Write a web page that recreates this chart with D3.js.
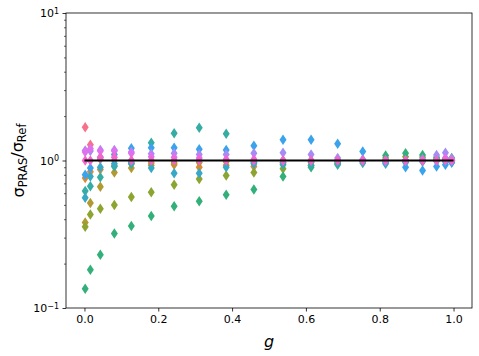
<!DOCTYPE html>
<html><head><meta charset="utf-8">
<script src="https://cdn.jsdelivr.net/npm/d3@7/dist/d3.min.js"></script>
<style>
body{margin:0;background:#fff}
svg{display:block}
text{font-family:"DejaVu Sans",sans-serif;fill:#000}
</style>
</head><body>
<svg id="chart" width="479" height="356"></svg>
<script>
// x positions (g values) of the columns
const gValues = [0.002, 0.016, 0.043, 0.081, 0.127, 0.181, 0.243, 0.311, 0.384, 0.459,
                 0.538, 0.614, 0.686, 0.754, 0.816, 0.870, 0.916, 0.954, 0.978, 0.995];

// ratio sigma_PRAS / sigma_Ref for each series
const seriesPink    = [1.68, 1.28, 1.02, 1.0, 1.0, 1.0, 1.0, 1.0, 1.0, 1.0, 1.0, 1.0, 1.0, 1.0, 1.0, 1.0, 1.0, 1.0, 1.0, 1.0];
const seriesOrange  = [0.76, 0.84, 0.87, 0.92, 0.95, 0.96, 0.935, 0.90, 0.93, 0.91, 0.96, 0.97, 0.98, 0.99, 1.0, 1.0, 1.0, 1.0, 1.0, 1.0];
const seriesOlive   = [0.38, 0.515, 0.665, 0.83, 0.89, 0.93, 0.96, 0.97, 0.98, 0.99, 1.0, 1.0, 1.0, 1.0, 1.0, 1.0, 1.0, 1.0, 1.0, 1.0];
const seriesLime    = [0.355, 0.43, 0.47, 0.50, 0.565, 0.61, 0.685, 0.75, 0.79, 0.83, 0.88, 0.93, 0.96, 0.99, 1.04, 1.06, 1.05, 1.03, 1.02, 1.01];
const seriesGreen   = [0.135, 0.182, 0.23, 0.32, 0.36, 0.42, 0.49, 0.53, 0.585, 0.635, 0.78, 0.90, 0.95, 1.0, 1.08, 1.12, 1.09, 1.05, 1.03, 1.04];
const seriesTeal    = [0.62, 0.67, 0.77, 0.91, 0.95, 1.32, 1.53, 1.67, 1.52, 0.97, 0.935, 0.925, 0.935, 0.96, 0.95, 0.97, 0.98, 0.99, 0.98, 0.97];
const seriesCyan    = [0.56, 0.78, 0.90, 0.95, 0.97, 0.89, 0.82, 0.82, 0.90, 0.95, 0.97, 0.98, 0.99, 0.99, 1.0, 1.0, 1.0, 1.0, 1.0, 1.0];
const seriesBlue    = [0.80, 0.89, 1.05, 1.10, 1.21, 1.22, 1.22, 1.19, 1.18, 1.26, 1.38, 1.38, 1.30, 1.15, 0.97, 0.90, 0.855, 0.91, 0.935, 0.97];
const seriesPurple  = [1.17, 1.16, 1.18, 1.18, 1.14, 1.11, 1.12, 1.10, 1.10, 1.12, 1.13, 1.10, 1.04, 1.02, 1.0, 1.0, 1.02, 1.09, 1.13, 1.03];
const seriesViolet  = [1.14, 1.20, 1.16, 1.16, 1.12, 1.06, 1.05, 1.04, 1.02, 1.02, 1.0, 1.0, 1.0, 1.0, 1.0, 1.0, 1.0, 1.0, 1.04, 1.0];
const seriesMagenta = [1.0, 1.0, 1.05, 1.05, 1.0, 1.0, 1.0, 1.0, 1.0, 1.0, 1.0, 1.0, 1.0, 1.0, 1.0, 1.0, 1.0, 1.0, 1.0, 1.0];

const seriesColors = ["#f77189", "#dc8932", "#b09a31", "#8ca531", "#33b07a", "#36ada4",
                      "#38a9c5", "#3ba3ec", "#a48cf4", "#e070ee", "#f565cc"];

const xTickValues = [0, 0.2, 0.4, 0.6, 0.8, 1.0];
const xTickLabels = ["0.0", "0.2", "0.4", "0.6", "0.8", "1.0"];
const yTickValues = [0.1, 1, 10];
const yTickExponents = ["\u22121", "0", "1"];
const refLine = [[0, 1], [1, 1]];

const allSeries = [seriesPink, seriesOrange, seriesOlive, seriesLime, seriesGreen, seriesTeal,
                   seriesCyan, seriesBlue, seriesPurple, seriesViolet, seriesMagenta];

const W = 479, H = 356;
const L = 66, R = 472, T = 13, B = 308;
const svg = d3.select("#chart");

const x = d3.scaleLinear().domain([-0.05, 1.05]).range([L, R]);
const y = d3.scaleLog().domain([0.1, 10]).range([B, T]);

// axes
const xAxis = d3.axisBottom(x).tickValues(xTickValues).tickFormat((d, i) => xTickLabels[i]).tickSize(3.5).tickPadding(3.5);
const gx = svg.append("g").attr("transform", `translate(0,${B})`).call(xAxis);
gx.select(".domain").remove();
gx.selectAll("line").attr("stroke", "#000").attr("stroke-width", 0.8);
gx.selectAll("text").attr("font-size", 11).attr("font-family", "DejaVu Sans").attr("fill", "#000");

const minor = [];
for (let e = -1; e < 1; e++) for (let m = 2; m <= 9; m++) minor.push(m * Math.pow(10, e));
const yMinor = d3.axisLeft(y).tickValues(minor).tickFormat("").tickSize(2);
const gym = svg.append("g").attr("transform", `translate(${L},0)`).call(yMinor);
gym.select(".domain").remove();
gym.selectAll("line").attr("stroke", "#000").attr("stroke-width", 0.6);

const yAxis = d3.axisLeft(y).tickValues(yTickValues).tickFormat("").tickSize(3.5);
const gy = svg.append("g").attr("transform", `translate(${L},0)`).call(yAxis);
gy.select(".domain").remove();
gy.selectAll("line").attr("stroke", "#000").attr("stroke-width", 0.8);
gy.selectAll(".tick").each(function(d, i) {
  const t = d3.select(this).append("text").attr("x", -7).attr("dy", "0.36em")
    .attr("text-anchor", "end").attr("font-size", 11).attr("fill", "#000");
  t.append("tspan").text("10");
  t.append("tspan").attr("dy", "-0.45em").attr("font-size", 8).text(yTickExponents[i]);
});

// markers
const w = 7, h = 10.5;
const diamond = `M0,${-h/2}L${w/2},0L0,${h/2}L${-w/2},0Z`;
allSeries.forEach((vals, si) => {
  svg.append("g").selectAll("path").data(vals).join("path")
    .attr("d", diamond)
    .attr("transform", (v, i) => `translate(${x(gValues[i])},${y(v)})`)
    .attr("fill", seriesColors[si]);
});

// reference line
svg.append("path").datum(refLine)
  .attr("d", d3.line().x(d => x(d[0])).y(d => y(d[1])))
  .attr("stroke", "#000").attr("stroke-width", 1.8).attr("fill", "none");

// frame
svg.append("rect").attr("x", L).attr("y", T).attr("width", R - L).attr("height", B - T)
  .attr("fill", "none").attr("stroke", "#000").attr("stroke-width", 0.8);

// labels
svg.append("text").attr("x", (L + R) / 2).attr("y", 347).attr("text-anchor", "middle")
  .attr("font-size", 16).attr("font-style", "italic").text("g");

const yl = svg.append("text").attr("transform", `translate(24,${(T + B) / 2}) rotate(-90)`)
  .attr("text-anchor", "middle").attr("font-size", 16);
yl.append("tspan").text("σ");
yl.append("tspan").attr("font-size", 11.5).attr("dy", "0.3em").text("PRAS");
yl.append("tspan").attr("dy", "-0.3em").text("/σ");
yl.append("tspan").attr("font-size", 11.5).attr("dy", "0.3em").text("Ref");
</script>
</body></html>
